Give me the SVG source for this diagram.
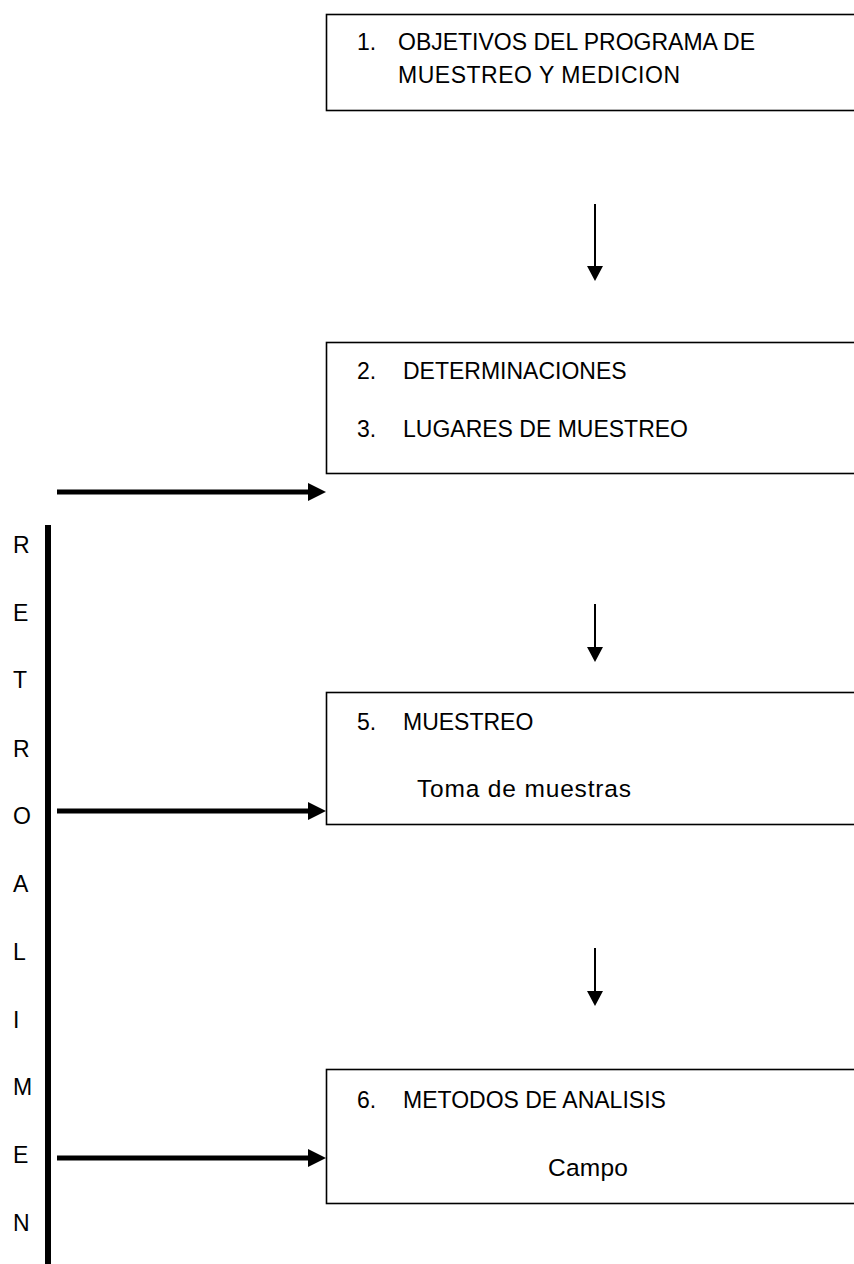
<svg xmlns="http://www.w3.org/2000/svg" width="854" height="1264" viewBox="0 0 854 1264">
<style>
.box{fill:#fff;stroke:#000;stroke-width:1.6}
.t{font-family:"Liberation Sans",Arial,sans-serif;font-size:23px;fill:#000}
.lc{font-size:24.5px}
.down{stroke:#000;stroke-width:2;fill:none}
.fb{stroke:#000;stroke-width:5;fill:none}
</style>
<rect width="854" height="1264" fill="#fff"/>
<g id="node1">
<rect class="box" x="326.5" y="14.5" width="540" height="96"/>
<text class="t" x="357" y="50">1.</text>
<text class="t" x="398" y="50">OBJETIVOS DEL PROGRAMA DE</text>
<text class="t" x="398" y="83" textLength="282" lengthAdjust="spacing">MUESTREO Y MEDICION</text>
</g>
<g id="node2">
<rect class="box" x="326.5" y="342.5" width="540" height="131"/>
<text class="t" x="357" y="379">2.</text>
<text class="t" x="403" y="379">DETERMINACIONES</text>
<text class="t" x="357" y="437">3.</text>
<text class="t" x="403" y="437">LUGARES DE MUESTREO</text>
</g>
<g id="node5">
<rect class="box" x="326.5" y="692.5" width="540" height="132"/>
<text class="t" x="357" y="730">5.</text>
<text class="t" x="403" y="730">MUESTREO</text>
<text class="t lc" x="417" y="797" textLength="214" lengthAdjust="spacing">Toma de muestras</text>
</g>
<g id="node6">
<rect class="box" x="326.5" y="1069.5" width="540" height="134"/>
<text class="t" x="357" y="1108">6.</text>
<text class="t" x="403" y="1108">METODOS DE ANALISIS</text>
<text class="t lc" x="548" y="1176" textLength="80" lengthAdjust="spacing">Campo</text>
</g>
<g id="feedback-label">
<text class="t" x="13" y="553">R</text>
<text class="t" x="13" y="621">E</text>
<text class="t" x="13" y="688">T</text>
<text class="t" x="13" y="757">R</text>
<text class="t" x="13" y="824">O</text>
<text class="t" x="13" y="892">A</text>
<text class="t" x="13" y="960">L</text>
<text class="t" x="13" y="1028">I</text>
<text class="t" x="13" y="1095">M</text>
<text class="t" x="13" y="1163">E</text>
<text class="t" x="13" y="1231">N</text>
</g>
<g id="connectors">
<line class="down" x1="595" y1="204" x2="595" y2="268"/>
<polygon points="587,266 603,266 595,281"/>
<line class="down" x1="595" y1="604" x2="595" y2="649"/>
<polygon points="587,647 603,647 595,662"/>
<line class="down" x1="595" y1="948" x2="595" y2="993"/>
<polygon points="587,991 603,991 595,1006"/>
<line x1="48" y1="525" x2="48" y2="1264" stroke="#000" stroke-width="6"/>
<line class="fb" x1="57" y1="492" x2="310" y2="492"/>
<polygon points="308,483 326,492 308,501"/>
<line class="fb" x1="57" y1="811" x2="310" y2="811"/>
<polygon points="308,802 326,811 308,820"/>
<line class="fb" x1="57" y1="1158" x2="310" y2="1158"/>
<polygon points="308,1149 326,1158 308,1167"/>
</g>
</svg>
